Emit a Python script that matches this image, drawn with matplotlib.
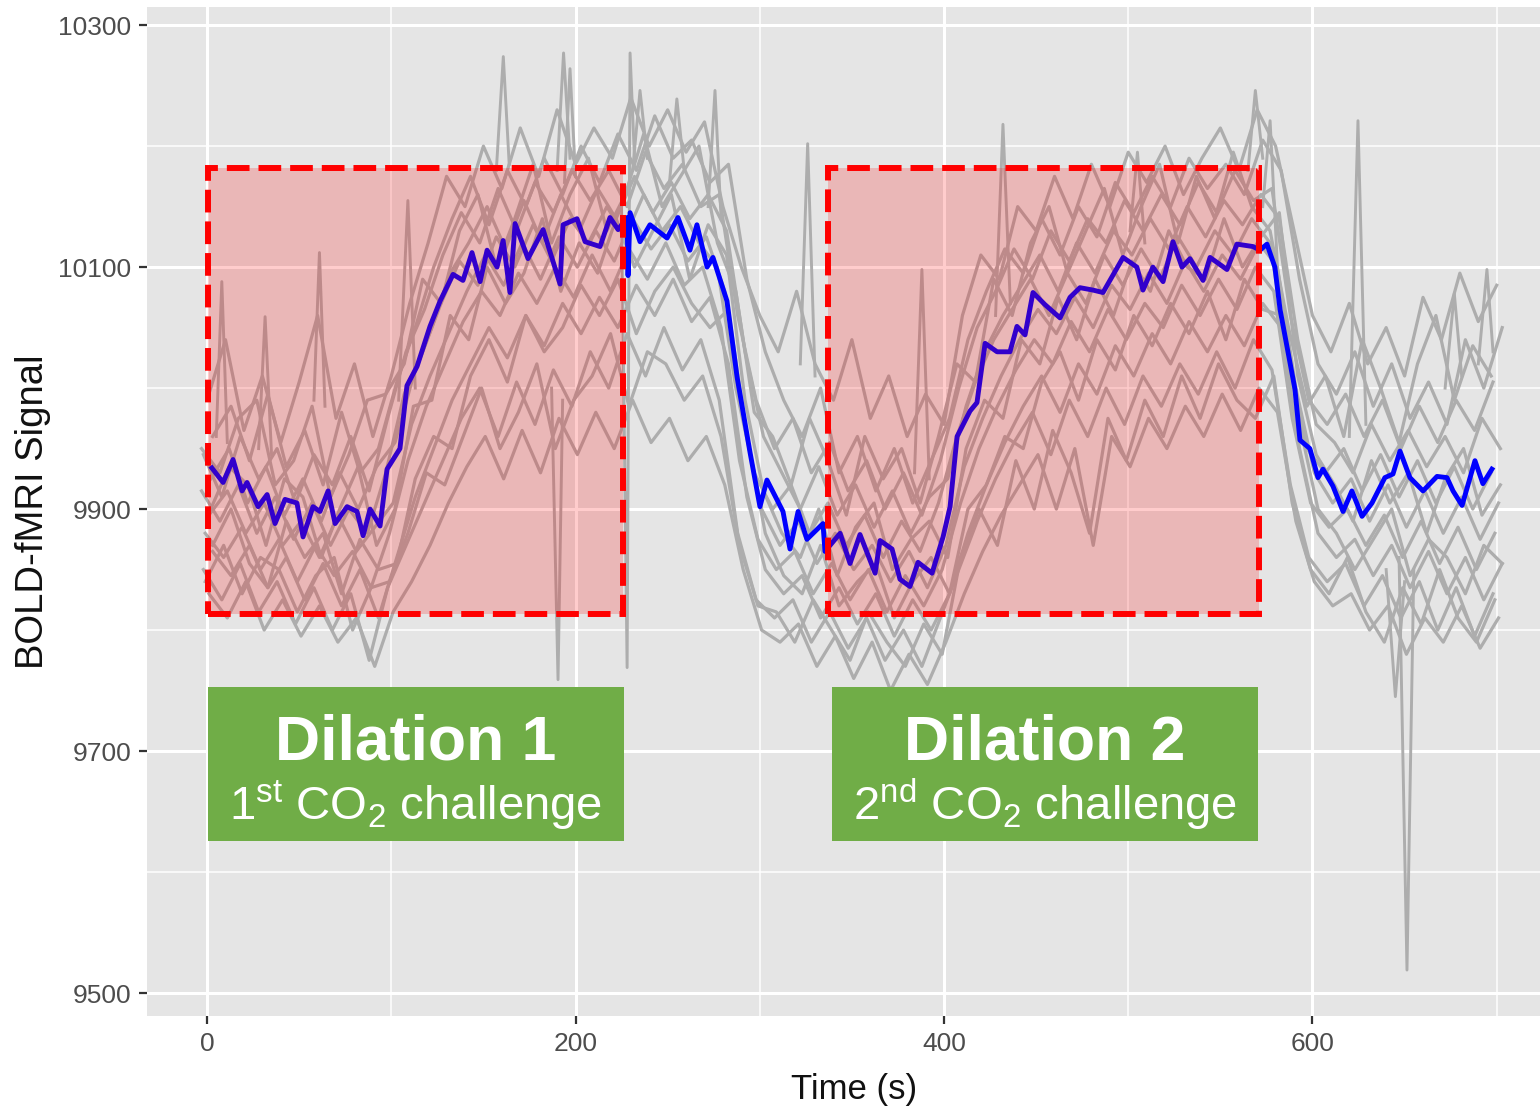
import matplotlib
matplotlib.use("Agg")
import matplotlib.pyplot as plt
from matplotlib.patches import Rectangle

plt.rcParams['font.family'] = ['Liberation Sans', 'DejaVu Sans']
plt.rcParams['mathtext.fontset'] = 'custom'
plt.rcParams['mathtext.rm'] = 'Liberation Sans'

# ---------------- data ----------------
trace_time = [0, 10, 20, 30, 40, 50, 60, 70, 80, 90, 100,
              110, 120, 130, 140, 150, 160, 170, 180, 190, 200,
              210, 220, 230, 240, 250, 260, 270, 280, 290, 300,
              310, 320, 330, 340, 350, 360, 370, 380, 390, 400,
              410, 420, 430, 440, 450, 460, 470, 480, 490, 500,
              510, 520, 530, 540, 550, 560, 570, 580, 590, 600,
              610, 620, 630, 640, 650, 660, 670, 680, 690, 700]
# acquisition onset of each subject relative to the common grid (s)
subject_onset = [0, 3, -2, 2, -3, 1, -1, 3, -2, 1, -3, 2, 3, -1]

subject_01 = [9990, 10040, 9965, 10010, 9955, 10005, 10060, 9975, 10020, 9960, 10010,
              10070, 10120, 10175, 10150, 10200, 10165, 10215, 10175, 10230, 10185,
              10215, 10190, 10240, 10200, 10230, 10195, 10220, 10150, 10100, 10060,
              10030, 10080, 10020, 9990, 10040, 9975, 10010, 9960, 9995, 9970,
              10060, 10110, 10090, 10150, 10130, 10175, 10140, 10185, 10150, 10195,
              10170, 10200, 10160, 10190, 10215, 10180, 10230, 10200, 10130, 10060,
              10030, 10070, 10020, 10050, 10010, 10075, 10040, 10095, 10055, 10085]
subject_02 = [9960, 9985, 9940, 9995, 9935, 9965, 9920, 9980, 9930, 9950, 10005,
              10050, 10100, 10140, 10175, 10135, 10180, 10150, 10190, 10160, 10200,
              10170, 10210, 10180, 10225, 10190, 10205, 10170, 10185, 10090, 10030,
              9990, 9960, 10000, 9930, 9960, 9915, 9950, 9905, 9940, 9975,
              10040, 10080, 10115, 10095, 10140, 10110, 10150, 10125, 10170, 10145,
              10175, 10150, 10190, 10165, 10185, 10160, 10205, 10180, 10090, 10020,
              9995, 10030, 9985, 10020, 9975, 10005, 9970, 10040, 10000, 10050]
subject_03 = [9945, 9910, 9960, 9925, 9950, 9905, 9945, 9920, 9960, 9915, 9975,
              10030, 10065, 10110, 10145, 10120, 10165, 10130, 10170, 10145, 10180,
              10155, 10180, 10150, 10195, 10165, 10185, 10150, 10160, 10060, 9990,
              9950, 9975, 9930, 9955, 9915, 9940, 9900, 9930, 9895, 9940,
              10000, 10050, 10080, 10115, 10090, 10130, 10105, 10140, 10120, 10155,
              10130, 10160, 10135, 10170, 10145, 10180, 10155, 10165, 10060, 9990,
              9970, 9995, 9960, 9990, 9950, 9985, 9955, 9990, 9965, 10005]
subject_04 = [9925, 9950, 9905, 9935, 9895, 9925, 9890, 9930, 9900, 9935, 9955,
              10010, 10050, 10095, 10120, 10150, 10115, 10155, 10120, 10160, 10130,
              10165, 10140, 10175, 10145, 10170, 10140, 10160, 10130, 10030, 9960,
              9930, 9900, 9935, 9895, 9920, 9885, 9915, 9880, 9910, 9925,
              9985, 10030, 10060, 10085, 10110, 10080, 10120, 10095, 10130, 10110,
              10140, 10115, 10150, 10125, 10155, 10135, 10160, 10140, 10040, 9970,
              9955, 9930, 9970, 9940, 9965, 9935, 9960, 9930, 9975, 9950]
subject_05 = [9915, 9890, 9920, 9880, 9910, 9875, 9905, 9870, 9900, 9880, 9930,
              9995, 10030, 10070, 10105, 10085, 10125, 10100, 10135, 10105, 10140,
              10120, 10150, 10125, 10160, 10130, 10150, 10120, 10100, 10000, 9930,
              9900, 9920, 9880, 9905, 9870, 9895, 9860, 9890, 9865, 9905,
              9960, 10005, 10040, 10065, 10090, 10060, 10095, 10070, 10110, 10085,
              10115, 10090, 10125, 10100, 10130, 10110, 10140, 10120, 10020, 9950,
              9930, 9950, 9915, 9945, 9910, 9940, 9905, 9935, 9900, 9930]
subject_06 = [9895, 9915, 9880, 9905, 9870, 9890, 9860, 9895, 9865, 9885, 9905,
              9970, 10010, 10045, 10080, 10110, 10085, 10120, 10090, 10125, 10100,
              10130, 10105, 10140, 10115, 10135, 10105, 10125, 10080, 9975, 9900,
              9870, 9890, 9855, 9880, 9850, 9870, 9840, 9865, 9835, 9870,
              9935, 9975, 10010, 10040, 10065, 10045, 10075, 10050, 10085, 10065,
              10095, 10070, 10105, 10080, 10110, 10090, 10120, 10100, 10000, 9930,
              9905, 9925, 9890, 9920, 9885, 9915, 9880, 9910, 9875, 9905]
subject_07 = [9880, 9860, 9885, 9850, 9875, 9840, 9870, 9845, 9865, 9835, 9880,
              9940, 9985, 10020, 10055, 10080, 10060, 10095, 10070, 10100, 10075,
              10110, 10080, 10115, 10090, 10120, 10085, 10100, 10050, 9940, 9875,
              9850, 9865, 9830, 9855, 9825, 9850, 9815, 9845, 9820, 9850,
              9905, 9950, 9985, 10015, 10040, 10020, 10055, 10030, 10065, 10040,
              10070, 10050, 10085, 10060, 10090, 10065, 10100, 10080, 9975, 9905,
              9885, 9900, 9870, 9895, 9860, 9890, 9855, 9885, 9850, 9880]
subject_08 = [9865, 9845, 9870, 9835, 9860, 9825, 9855, 9820, 9850, 9810, 9860,
              9910, 9950, 9990, 10020, 10050, 10025, 10060, 10035, 10070, 10045,
              10075, 10050, 10085, 10060, 10090, 10055, 10075, 10020, 9910, 9850,
              9830, 9845, 9810, 9835, 9805, 9830, 9795, 9825, 9800, 9830,
              9880, 9920, 9955, 9985, 10010, 9980, 10020, 9995, 10035, 10010,
              10045, 10020, 10055, 10030, 10060, 10035, 10070, 10050, 9950, 9880,
              9860, 9875, 9845, 9870, 9835, 9865, 9830, 9860, 9825, 9855]
subject_09 = [9850, 9825, 9855, 9815, 9840, 9805, 9835, 9800, 9830, 9775, 9835,
              9870, 9905, 9940, 9975, 10000, 9960, 10005, 9970, 10015, 9985,
              10030, 10000, 10045, 10010, 10050, 10015, 10040, 9990, 9880, 9825,
              9810, 9825, 9790, 9815, 9785, 9810, 9775, 9800, 9770, 9810,
              9850, 9890, 9925, 9955, 9980, 9945, 9990, 9960, 10000, 9970,
              10010, 9985, 10020, 9995, 10030, 10000, 10040, 10015, 9920, 9860,
              9840, 9855, 9820, 9845, 9810, 9840, 9800, 9835, 9795, 9830]
subject_10 = [9830, 9810, 9840, 9800, 9825, 9795, 9820, 9790, 9810, 9770, 9815,
              9840, 9870, 9905, 9935, 9960, 9925, 9965, 9930, 9975, 9945,
              9980, 9950, 9990, 9955, 9975, 9940, 9960, 9920, 9850, 9800,
              9790, 9805, 9770, 9795, 9760, 9790, 9750, 9780, 9755, 9790,
              9830, 9865, 9895, 9920, 9945, 9900, 9950, 9870, 9960, 9935,
              9975, 9950, 9985, 9960, 9995, 9965, 10000, 9980, 9890, 9840,
              9820, 9830, 9800, 9820, 9780, 9810, 9790, 9820, 9785, 9810]
subject_11 = [9950, 9930, 9975, 9990, 9920, 9940, 9985, 9910, 9945, 9990, 9995,
              10020, 10090, 10070, 10130, 10160, 10100, 10140, 10185, 10120, 10160,
              10190, 10130, 10160, 10210, 10150, 10175, 10200, 10120, 10080, 9980,
              9960, 9920, 9975, 9940, 9895, 9960, 9925, 9950, 9905, 9960,
              10020, 10005, 10090, 10060, 10120, 10150, 10095, 10130, 10165, 10110,
              10150, 10185, 10120, 10175, 10140, 10195, 10150, 10130, 10050, 9985,
              10010, 9960, 10040, 10000, 9955, 10020, 10060, 9990, 10035, 10010]
subject_12 = [9900, 9935, 9920, 9870, 9925, 9910, 9860, 9900, 9935, 9870, 9900,
              9985, 9990, 10060, 10040, 10100, 10070, 10095, 10140, 10080, 10120,
              10095, 10140, 10100, 10130, 10160, 10090, 10135, 10110, 9990, 9915,
              9880, 9860, 9900, 9845, 9885, 9905, 9850, 9875, 9890, 9860,
              9950, 9990, 9975, 10040, 10020, 10075, 10040, 10090, 10060, 10105,
              10080, 10130, 10100, 10090, 10140, 10100, 10125, 10145, 10010, 9945,
              9920, 9890, 9940, 9905, 9930, 9880, 9925, 9950, 9895, 9920]
subject_13 = [9870, 9900, 9855, 9835, 9890, 9860, 9880, 9830, 9875, 9850, 9855,
              9925, 9960, 9950, 10010, 10040, 10005, 10060, 10030, 10050, 10085,
              10060, 10090, 10045, 10080, 10100, 10070, 10050, 10065, 9960, 9880,
              9845, 9830, 9870, 9820, 9840, 9855, 9810, 9840, 9860, 9830,
              9900, 9920, 9960, 9950, 10005, 10030, 9990, 10040, 10015, 10060,
              10035, 10070, 10045, 10080, 10040, 10090, 10065, 10060, 9970, 9900,
              9880, 9850, 9875, 9900, 9845, 9875, 9860, 9830, 9870, 9855]
subject_14 = [9840, 9870, 9830, 9860, 9850, 9815, 9845, 9860, 9800, 9835, 9840,
              9880, 9930, 9920, 9960, 10000, 9950, 9980, 10020, 9950, 9990,
              10010, 10045, 9985, 10030, 10020, 9990, 10010, 9960, 9870, 9820,
              9815, 9790, 9825, 9800, 9775, 9815, 9790, 9770, 9805, 9780,
              9860, 9900, 9870, 9940, 9900, 9965, 9930, 9880, 9975, 9940,
              9990, 9960, 10010, 9975, 10020, 9990, 9975, 10010, 9905, 9850,
              9830, 9860, 9815, 9790, 9835, 9805, 9850, 9810, 9790, 9825]

# short spikes seen in individual subjects (time, signal)
spike_times = [[5, 8, 11], [28, 31.5, 35], [58, 61, 64], [104, 109, 113],
               [157, 160.8, 164], [187, 190.5, 193], [190, 193.5, 197],
               [194, 197, 200], [225, 228, 229.6, 232], [231, 235, 239],
               [251, 255, 259], [272, 275.7, 279], [322, 326, 330],
               [384, 388, 392], [428, 432, 436], [501, 505, 509],
               [565, 569, 573], [573, 577, 581], [620, 624.7, 629],
               [640, 645, 650], [647, 651.3, 655], [672, 677, 681],
               [690, 694.7, 698]]
spike_values = [[9960, 10088, 9955], [9950, 10059, 9945], [9990, 10112, 9985],
                [9990, 10155, 10000], [10180, 10274, 10185], [10000, 9759, 9990],
                [10180, 10277, 10190], [10170, 10264, 10175],
                [10150, 9769, 10277, 10190], [10180, 10246, 10190],
                [10170, 10239, 10180], [10150, 10246, 10140], [10020, 10202, 10010],
                [9930, 10098, 9925], [10060, 10218, 10070], [10130, 10195, 10120],
                [10180, 10246, 10190], [10150, 10221, 10100], [9960, 10221, 9970],
                [9850, 9745, 9840], [9860, 9519, 9850], [10000, 10078, 10010],
                [10020, 10098, 10030]]

mean_time = [2.6, 8.7, 14.1, 19.0, 21.7, 27.7, 32.6, 36.9, 42.3, 48.8, 52.1, 57.5,
             61.3, 65.7, 69.5, 76.0, 81.4, 84.7, 88.5, 93.9, 97.7, 104.7, 108.5,
             114.0, 121.0, 126.5, 133.5, 138.9, 143.8, 148.2, 152.0, 157.4, 160.7,
             164.4, 167.2, 174.2, 182.4, 191.6, 193.2, 200.8, 205.2, 213.3, 218.7,
             223.1, 228.0, 228.5, 229.6, 235.0, 240.4, 249.7, 255.6, 262.1, 265.9,
             271.4, 274.6, 282.2, 287.7, 294.7, 300.1, 303.9, 312.6, 316.4, 320.8,
             325.6, 334.3, 335.4, 343.6, 349.0, 354.4, 362.6, 365.3, 371.8, 376.1,
             381.5, 385.9, 393.5, 399.5, 403.3, 407.1, 414.1, 417.9, 422.3, 428.8,
             435.8, 439.6, 444.0, 448.3, 454.8, 463.0, 468.4, 473.8, 480.9, 486.3,
             497.2, 504.7, 508.0, 513.4, 518.9, 524.3, 529.2, 533.5, 540.6, 544.4,
             553.6, 559.0, 567.7, 571.5, 575.3, 579.6, 582.4, 586.2, 590.5, 593.2,
             598.6, 603.0, 605.7, 611.1, 616.6, 621.4, 626.9, 632.3, 639.3, 643.7,
             647.5, 652.9, 660.0, 667.6, 673.0, 676.3, 681.2, 688.2, 692.5, 697.4]
mean_signal = [9934, 9922, 9941, 9915, 9922, 9902, 9912, 9888, 9908, 9905, 9877, 9902,
               9898, 9915, 9888, 9902, 9898, 9878, 9900, 9886, 9933, 9950, 10002,
               10018, 10051, 10072, 10094, 10089, 10112, 10088, 10114, 10100, 10122,
               10079, 10136, 10107, 10131, 10086, 10135, 10140, 10121, 10117, 10141,
               10131, 10141, 10093, 10145, 10121, 10135, 10124, 10141, 10114, 10135,
               10100, 10108, 10072, 10009, 9947, 9902, 9924, 9898, 9867, 9898,
               9875, 9888, 9865, 9880, 9855, 9879, 9847, 9874, 9867, 9842,
               9836, 9856, 9847, 9877, 9902, 9960, 9981, 9988, 10037, 10030,
               10030, 10051, 10044, 10079, 10069, 10058, 10075, 10083, 10081, 10079,
               10108, 10100, 10081, 10100, 10088, 10121, 10100, 10107, 10089, 10108,
               10098, 10119, 10117, 10114, 10119, 10100, 10065, 10034, 9999, 9957,
               9950, 9926, 9933, 9919, 9898, 9915, 9894, 9905, 9926, 9929,
               9948, 9926, 9915, 9927, 9926, 9915, 9903, 9940, 9921, 9933]

challenge_start = [0.5, 337.0]
challenge_end = [226.0, 571.0]
challenge_low = 9813
challenge_high = 10182
label_low = 9625.5
label_high = 9753
label_start = [0.5, 339.2]
label_end = [226.3, 570.4]
label_titles = ['Dilation 1', 'Dilation 2']
label_subtitles = [r'1$^{\mathregular{st}}$ CO$_{\mathregular{2}}$ challenge',
                   r'2$^{\mathregular{nd}}$ CO$_{\mathregular{2}}$ challenge']

x_ticks = [0, 200, 400, 600]
x_minor = [100, 300, 500, 700]
y_ticks = [9500, 9700, 9900, 10100, 10300]
y_minor = [9600, 9800, 10000, 10200]

# ---------------- figure ----------------
fig = plt.figure(figsize=(15.4, 11.08), dpi=100)
ax = fig.add_axes([147 / 1540, 92 / 1108, 1414 / 1540, 1009 / 1108])
ax.set_facecolor('#E5E5E5')
for s in ax.spines.values():
    s.set_visible(False)
ax.set_xlim(-32.6, 734.9)
ax.set_ylim(9481, 10315)
ax.set_xticks(x_ticks)
ax.set_xticks(x_minor, minor=True)
ax.set_yticks(y_ticks)
ax.set_yticks(y_minor, minor=True)
ax.set_axisbelow(True)
ax.grid(which='major', color='white', lw=2.2)
ax.grid(which='minor', color='white', lw=1.1)
ax.tick_params(which='major', length=5.5, width=1.6, color='#333333',
               labelsize=19, labelcolor='#4D4D4D', pad=6)
ax.tick_params(which='minor', length=0)

subjects = [subject_01, subject_02, subject_03, subject_04, subject_05,
            subject_06, subject_07, subject_08, subject_09, subject_10,
            subject_11, subject_12, subject_13, subject_14]
for sv, onset in zip(subjects, subject_onset):
    ax.plot([t + onset for t in trace_time], sv, color='#ADADAD', lw=2.3,
            zorder=2, solid_joinstyle='round')
for st, sv in zip(spike_times, spike_values):
    ax.plot(st, sv, color='#ADADAD', lw=2.1, zorder=2)

ax.plot(mean_time, mean_signal, color='#0000FF', lw=3.5, zorder=3,
        solid_joinstyle='round')

for x0, x1 in zip(challenge_start, challenge_end):
    ax.add_patch(Rectangle((x0, challenge_low), x1 - x0, challenge_high - challenge_low,
                           facecolor=(1, 0, 0, 0.2), edgecolor='none', zorder=4))
    ax.add_patch(Rectangle((x0, challenge_low), x1 - x0, challenge_high - challenge_low,
                           fill=False, edgecolor='#FF0000', lw=4.3,
                           linestyle=(0, (3.8, 1.5)), zorder=5))

for x0, x1, t1, t2 in zip(label_start, label_end, label_titles, label_subtitles):
    ax.add_patch(Rectangle((x0, label_low), x1 - x0, label_high - label_low,
                           facecolor='#70AD47', edgecolor='none', zorder=6))
    cx = (x0 + x1) / 2
    ax.text(cx, 9692.6, t1, ha='center', va='baseline', fontsize=45,
            fontweight='bold', color='white', zorder=7)
    ax.text(cx, 9643.0, t2, ha='center', va='baseline', fontsize=34,
            color='white', zorder=7)

ax.set_xlabel('Time (s)', fontsize=25, color='#111111', labelpad=12)
ax.set_ylabel('BOLD-fMRI Signal', fontsize=27.5, color='#111111', labelpad=5)

fig.savefig('out.png', dpi=100, facecolor='white')
